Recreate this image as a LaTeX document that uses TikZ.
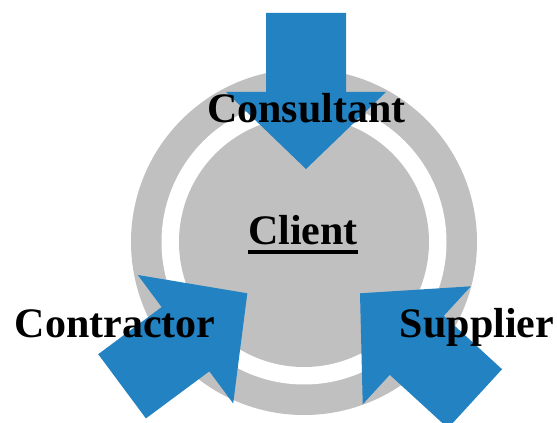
\documentclass[tikz,border=0pt]{standalone}
\usepackage{fontspec}
\setmainfont{Liberation Serif}
\definecolor{ringgray}{RGB}{192,192,192}
\definecolor{arrowblue}{RGB}{35,130,194}
\begin{document}
\begin{tikzpicture}[x=1pt,y=1pt,
  label/.style={font=\fontsize{42}{48}\selectfont\bfseries, inner sep=0pt, anchor=base},
  bluearrow/.style={fill=arrowblue, draw=none}]
\useasboundingbox (0,0) rectangle (557,423);
% rings around the client
\coordinate (c) at (304,181);
\fill[ringgray] (c) circle (173);
\fill[white] (c) circle (142.5);
\fill[ringgray] (c) circle (125);
% block arrows pointing to the centre (tip at the origin, pointing along +x)
\def\blockarrow{(0,0) -- (-77,80) -- (-77,40) -- (-156,40) -- (-156,-40) -- (-77,-40) -- (-77,-80) -- cycle}
\coordinate (tipc) at (306,254);
\coordinate (tipl) at (247.3,129.7);
\coordinate (tipr) at (360,129.7);
\begin{scope}[shift={(tipc)}, rotate=-90]
  \fill[bluearrow] \blockarrow;
\end{scope}
\begin{scope}[shift={(tipl)}, rotate=36.6]
  \fill[bluearrow] \blockarrow;
\end{scope}
\begin{scope}[shift={(tipr)}, rotate=137.5]
  \fill[bluearrow] \blockarrow;
\end{scope}
% labels
\node[label] (consultant) at (306.5,300) {Consultant};
\node[label] (client) at (303,178) {Client};
\draw[line width=3.5pt] (client.base west) ++(0,-7) -- ([yshift=-7pt]client.base east);
\node[label] (contractor) at (115,85) {Contractor};
\node[label] (supplier) at (477,85) {Supplier};
\end{tikzpicture}
\end{document}
